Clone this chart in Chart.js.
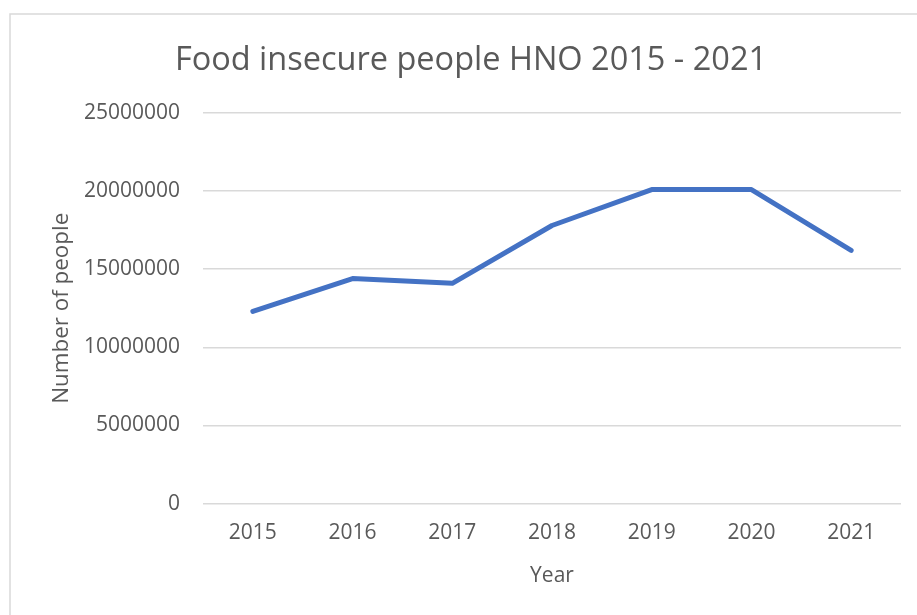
<!DOCTYPE html>
<html>
<head>
<meta charset="utf-8">
<script src="https://cdn.jsdelivr.net/npm/chart.js@4/dist/chart.umd.min.js"></script>
<style>
  html, body { margin: 0; padding: 0; background: #ffffff; }
  #wrap { width: 917px; height: 615px; position: relative; }
</style>
</head>
<body>
<div id="wrap"><canvas id="c" width="917" height="615"></canvas></div>
<script>
const years = ['2015', '2016', '2017', '2018', '2019', '2020', '2021'];
const foodInsecurePeople = [12300000, 14400000, 14100000, 17800000, 20100000, 20100000, 16200000];
const chartTitle = 'Food insecure people HNO 2015 - 2021';
const xTitle = 'Year';
const yTitle = 'Number of people';

const textColor = '#595959';
const fontFamily = "'Open Sans', 'Liberation Sans', sans-serif";

const frame = {
  id: 'frame',
  beforeDraw(chart) {
    const ctx = chart.ctx;
    ctx.save();
    ctx.fillStyle = '#ffffff';
    ctx.fillRect(0, 0, chart.width, chart.height);
    ctx.strokeStyle = '#d9d9d9';
    ctx.lineWidth = 1.5;
    ctx.strokeRect(10, 14, 1000, 1000);
    ctx.restore();
  }
};

new Chart(document.getElementById('c'), {
  type: 'line',
  data: {
    labels: years,
    datasets: [{
      data: foodInsecurePeople,
      borderColor: '#4472C4',
      backgroundColor: '#4472C4',
      borderWidth: 5,
      borderCapStyle: 'round',
      borderJoinStyle: 'round',
      pointRadius: 0,
      pointHoverRadius: 0,
      tension: 0,
      fill: false
    }]
  },
  options: {
    responsive: false,
    animation: false,
    layout: { padding: { left: 41, right: 16, top: 20, bottom: 22 } },
    plugins: {
      legend: { display: false },
      tooltip: { enabled: false },
      title: {
        display: true,
        text: chartTitle,
        color: textColor,
        font: { family: fontFamily, size: 32.5, weight: 'normal' },
        padding: { top: 21, bottom: 33 }
      }
    },
    scales: {
      x: {
        offset: true,
        grid: { display: false, drawTicks: false },
        border: { display: false },
        ticks: {
          color: textColor,
          font: { family: fontFamily, size: 21 },
          padding: 17,
          maxRotation: 0
        },
        title: {
          display: true,
          text: xTitle,
          color: textColor,
          font: { family: fontFamily, size: 21 },
          padding: { top: 1, bottom: 4 }
        }
      },
      y: {
        min: 0,
        max: 25000000,
        grid: { color: '#d9d9d9', lineWidth: 1.5, drawTicks: false },
        border: { display: false },
        ticks: {
          stepSize: 5000000,
          color: textColor,
          font: { family: fontFamily, size: 21 },
          padding: 23,
          callback: (v) => String(v)
        },
        title: {
          display: true,
          text: yTitle,
          color: textColor,
          font: { family: fontFamily, size: 22.4 },
          padding: { top: 7, bottom: 0 }
        },
        afterFit(scale) { scale.width = 162; }
      }
    }
  },
  plugins: [frame]
});
</script>
</body>
</html>
